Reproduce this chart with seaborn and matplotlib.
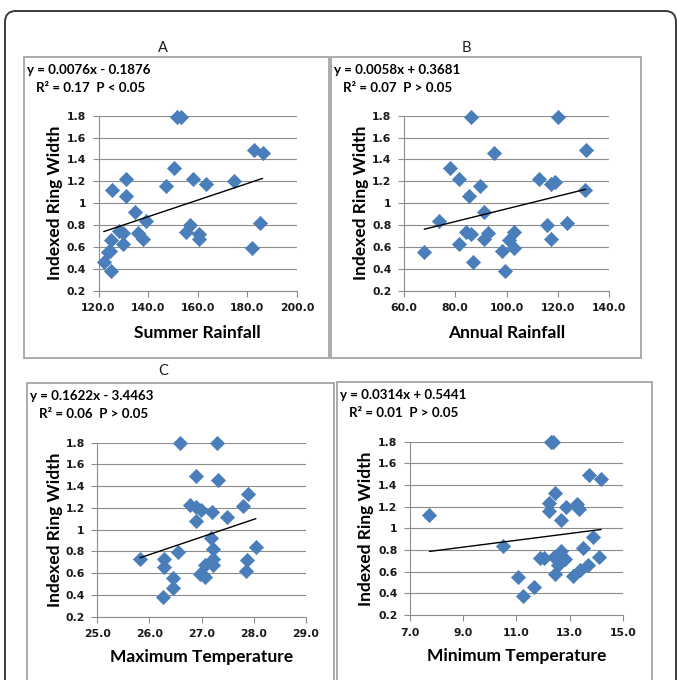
import matplotlib
matplotlib.use("Agg")
import matplotlib.pyplot as plt
from matplotlib.patches import FancyBboxPatch, Rectangle
import seaborn as sns
import pandas as pd
import numpy as np

# ---------------- data ----------------
summer_rain = [151.7, 153.1, 182.7, 186.1, 150.4, 131.1, 158.1, 174.8, 163.2, 147.1, 125.3, 130.9,
               134.7, 139.3, 185.1, 156.8, 128.3, 130.0, 136.0, 155.2, 160.5, 138.0, 160.5, 125.1,
               130.0, 124.7, 123.7, 182.0, 122.1, 125.1]
ring_a = [1.79, 1.79, 1.49, 1.455, 1.32, 1.22, 1.225, 1.2, 1.18, 1.157, 1.12, 1.07,
          0.92, 0.84, 0.82, 0.80, 0.745, 0.73, 0.73, 0.736, 0.718, 0.675, 0.675, 0.662,
          0.626, 0.565, 0.55, 0.59, 0.46, 0.38]

annual_rain = [86.0, 120.0, 130.9, 95.2, 77.9, 81.6, 112.7, 117.5, 118.9, 89.6, 130.8, 85.3,
               91.3, 73.5, 123.6, 115.8, 84.2, 86.1, 92.9, 102.9, 91.3, 101.0, 117.5, 81.6,
               103.0, 98.4, 67.9, 87.0, 99.6]
ring_b = [1.79, 1.79, 1.49, 1.455, 1.32, 1.22, 1.225, 1.18, 1.195, 1.157, 1.12, 1.07,
          0.92, 0.84, 0.82, 0.80, 0.74, 0.718, 0.73, 0.736, 0.67, 0.663, 0.67, 0.623,
          0.587, 0.565, 0.553, 0.46, 0.38]

max_temp = [26.58, 27.29, 26.90, 27.31, 27.88, 26.78, 27.80, 26.90, 26.99, 27.20, 27.49, 26.89,
            27.17, 28.04, 27.21, 26.55, 25.82, 26.28, 27.21, 27.86, 27.06, 27.21, 26.28, 27.85,
            26.96, 27.07, 26.46, 26.46, 26.25]
ring_c = [1.8, 1.8, 1.497, 1.457, 1.328, 1.23, 1.217, 1.205, 1.18, 1.16, 1.12, 1.076,
          0.92, 0.843, 0.825, 0.794, 0.727, 0.735, 0.735, 0.72, 0.671, 0.671, 0.659, 0.622,
          0.591, 0.567, 0.558, 0.46, 0.383]

min_temp = [12.29, 12.39, 13.72, 14.19, 12.47, 12.24, 13.27, 12.87, 13.36, 12.24, 7.73, 12.68,
            13.90, 10.49, 13.50, 12.68, 11.89, 12.04, 12.42, 12.83, 14.10, 12.58, 13.71, 12.45,
            13.14, 13.39, 11.06, 11.66, 11.24]
ring_d = [1.794, 1.794, 1.495, 1.452, 1.323, 1.23, 1.225, 1.194, 1.175, 1.157, 1.12, 1.074,
          0.917, 0.837, 0.818, 0.794, 0.726, 0.726, 0.732, 0.714, 0.732, 0.658, 0.665, 0.578,
          0.56, 0.615, 0.551, 0.455, 0.375]

slopes = [0.0076, 0.0058, 0.1622, 0.0314]
intercepts = [-0.1876, 0.3681, -3.4463, 0.5441]
equations = ["y = 0.0076x - 0.1876", "y = 0.0058x + 0.3681",
             "y = 0.1622x - 3.4463", "y = 0.0314x + 0.5441"]
stats = ["R\u00b2 = 0.17  P < 0.05", "R\u00b2 = 0.07  P > 0.05",
         "R\u00b2 = 0.06  P > 0.05", "R\u00b2 = 0.01  P > 0.05"]
x_labels = ["Summer Rainfall", "Annual Rainfall", "Maximum Temperature", "Minimum Temperature"]
panel_letters = ["A", "B", "C", ""]
x_ticks = [[120, 140, 160, 180, 200], [60, 80, 100, 120, 140],
           [25, 26, 27, 28, 29], [7, 9, 11, 13, 15]]
y_ticks = [0.2, 0.4, 0.6, 0.8, 1.0, 1.2, 1.4, 1.6, 1.8]
y_label = "Indexed Ring Width"

xs = [summer_rain, annual_rain, max_temp, min_temp]
ys = [ring_a, ring_b, ring_c, ring_d]

# ---------------- layout (pixels) ----------------
W, H = 677, 680
sns.set_theme(style="white")
plt.rcParams['font.family'] = ['Lato', 'DejaVu Sans']

fig = plt.figure(figsize=(W / 100, H / 100), dpi=100)
fig.patch.set_facecolor("white")

def fx(x):
    return x / W

def fy(y):
    return 1 - y / H

# outer rounded frame
fig.patches.append(FancyBboxPatch((fx(5), fy(760)), fx(671), (760 - 11) / H,
                                  boxstyle="round,pad=0,rounding_size=0.016",
                                  transform=fig.transFigure, fill=False,
                                  edgecolor="#3a3a3a", linewidth=1.4))

# panel boxes (x0, y0, x1, y1)
boxes = [(24, 57, 329, 358), (331, 57, 641, 358), (27, 383, 334, 720), (337, 382, 652, 720)]
# plot areas (x0, y0, x1, y1)
areas = [(98.5, 115.7, 297, 290.7), (404, 115.7, 609, 290.7),
         (97.3, 442.7, 306, 616.7), (410, 441.7, 622.7, 615)]
letter_pos = [(163, 48), (466, 48), (163, 371), (0, 0)]
xlabel_center_y = [333, 333, 657, 656]
ylabel_center_x = [55, 361, 55, 366]

grid_col = "#8c8c8c"
marker_col = "#4a7ebb"

for i in range(4):
    bx0, by0, bx1, by1 = boxes[i]
    fig.patches.append(Rectangle((fx(bx0), fy(by1)), fx(bx1 - bx0), (by1 - by0) / H,
                                 transform=fig.transFigure, fill=False,
                                 edgecolor="#a5a5a5", linewidth=1.3))
    if panel_letters[i]:
        lx, ly = letter_pos[i]
        fig.text(fx(lx), fy(ly), panel_letters[i], ha="center", va="center",
                 fontsize=10.5, color="#1a1a1a")
    fig.text(fx(bx0 + 3), fy(by0 + 13), equations[i], ha="left", va="center",
             fontsize=9.6, fontweight="bold", color="black")
    fig.text(fx(bx0 + 12), fy(by0 + 31), stats[i], ha="left", va="center",
             fontsize=9.6, fontweight="bold", color="black")

    ax0, ay0, ax1, ay1 = areas[i]
    ax = fig.add_axes([fx(ax0), fy(ay1), fx(ax1 - ax0), (ay1 - ay0) / H])
    ax.set_facecolor("none")
    df = pd.DataFrame({"x": xs[i], "y": ys[i]})
    sns.scatterplot(data=df, x="x", y="y", ax=ax, marker="D", s=52,
                    color=marker_col, edgecolor=marker_col, linewidth=0.5, zorder=3,
                    clip_on=False)
    xr = np.array([min(xs[i]), max(xs[i])])
    line_df = pd.DataFrame({"x": xr, "y": slopes[i] * xr + intercepts[i]})
    sns.lineplot(data=line_df, x="x", y="y", ax=ax, color="black", linewidth=1.0, zorder=4)

    ax.set_xlim(x_ticks[i][0], x_ticks[i][-1])
    ax.set_ylim(0.2, 1.8)
    ax.set_xticks(x_ticks[i])
    ax.set_xticklabels([f"{v:.1f}" for v in x_ticks[i]])
    ax.set_yticks(y_ticks)
    ax.set_yticklabels([f"{v:g}" for v in y_ticks])
    for lab in ax.get_xticklabels() + ax.get_yticklabels():
        lab.set_fontfamily("DejaVu Sans")
        lab.set_fontweight("bold")
        lab.set_fontsize(7.8)
        lab.set_color("#1a1a1a")
    ax.tick_params(axis="both", which="major", direction="out", length=4, width=0.8,
                   color=grid_col, pad=5, bottom=True, left=True)
    ax.grid(axis="y", color=grid_col, linewidth=0.8)
    ax.grid(axis="x", visible=False)
    ax.set_axisbelow(True)
    for side in ["top", "right"]:
        ax.spines[side].set_visible(False)
    for side in ["left", "bottom"]:
        ax.spines[side].set_color(grid_col)
        ax.spines[side].set_linewidth(0.8)

    ax.set_xlabel(x_labels[i], fontsize=12.5, fontweight="bold", color="black",
                  va="center")
    ax.set_ylabel(y_label, fontsize=12.5, fontweight="bold", color="black",
                  va="center")
    ax.xaxis.set_label_coords(0.5, (ay1 - xlabel_center_y[i]) / (ay1 - ay0))
    ax.yaxis.set_label_coords((ylabel_center_x[i] - ax0) / (ax1 - ax0), 0.5)

fig.savefig("out.png", dpi=100, facecolor="white")
